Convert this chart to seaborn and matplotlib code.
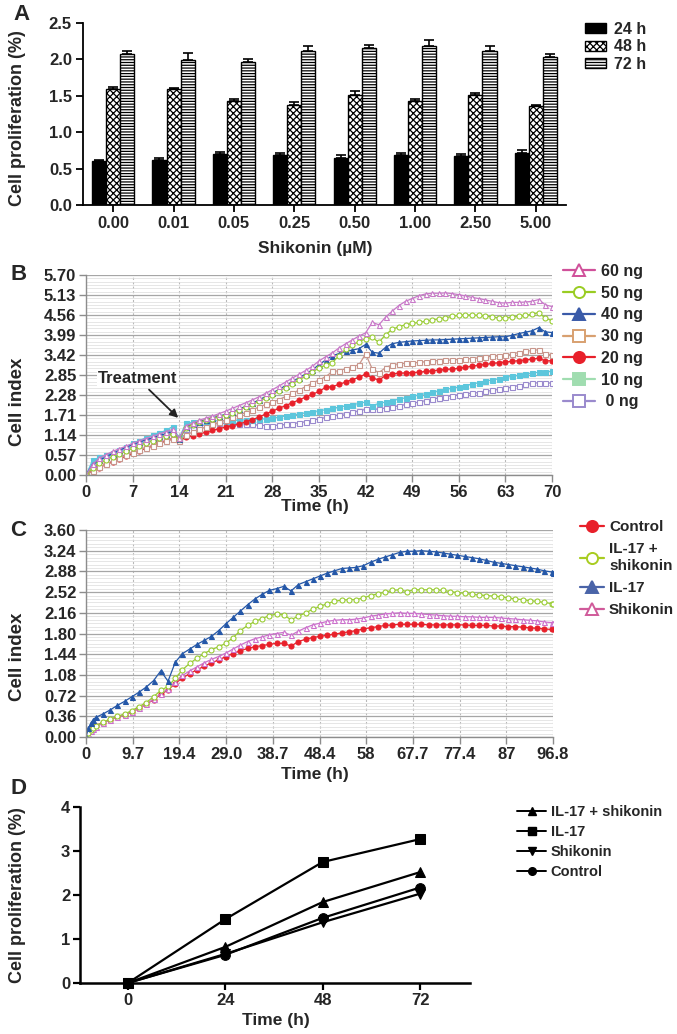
import numpy as np
import pandas as pd
import seaborn as sns
import matplotlib.pyplot as plt
from matplotlib.patches import Patch
from matplotlib.lines import Line2D
from matplotlib.ticker import AutoMinorLocator

# ---------------- data ----------------
# panel A
doses = ['0.00', '0.01', '0.05', '0.25', '0.50', '1.00', '2.50', '5.00']
hours_a = ['24 h', '48 h', '72 h']
prolif_24 = [0.60, 0.62, 0.70, 0.69, 0.65, 0.68, 0.67, 0.72]
prolif_48 = [1.60, 1.59, 1.43, 1.37, 1.51, 1.43, 1.51, 1.36]
prolif_72 = [2.08, 1.99, 1.96, 2.11, 2.16, 2.19, 2.11, 2.03]
err_24 = [0.02, 0.03, 0.03, 0.02, 0.03, 0.04, 0.03, 0.04]
err_48 = [0.02, 0.02, 0.03, 0.05, 0.06, 0.03, 0.03, 0.02]
err_72 = [0.03, 0.10, 0.05, 0.07, 0.04, 0.07, 0.07, 0.05]

# panel B (hourly readings, 0-70 h)
time_b = list(range(0, 71))
ng60 = [0.00, 0.30, 0.48, 0.58, 0.67, 0.75, 0.82, 0.90, 0.97, 1.04,
        1.10, 1.17, 1.23, 1.30, 1.05, 1.40, 1.48, 1.56, 1.62, 1.68,
        1.75, 1.82, 1.90, 1.98, 2.06, 2.14, 2.23, 2.33, 2.43, 2.54,
        2.65, 2.76, 2.87, 2.98, 3.10, 3.25, 3.37, 3.48, 3.62, 3.74,
        3.85, 3.96, 4.05, 4.35, 4.28, 4.50, 4.67, 4.83, 4.95, 5.03,
        5.11, 5.16, 5.18, 5.18, 5.19, 5.17, 5.14, 5.10, 5.06, 5.03,
        4.99, 4.95, 4.91, 4.90, 4.92, 4.92, 4.93, 4.95, 5.00, 4.85,
        4.80]
ng50 = [0.00, 0.20, 0.33, 0.43, 0.52, 0.60, 0.68, 0.76, 0.84, 0.91,
        0.98, 1.05, 1.12, 1.18, 1.02, 1.35, 1.43, 1.50, 1.56, 1.61,
        1.66, 1.71, 1.78, 1.85, 1.93, 2.01, 2.10, 2.19, 2.29, 2.39,
        2.49, 2.60, 2.71, 2.82, 2.93, 3.05, 3.13, 3.20, 3.40, 3.58,
        3.70, 3.80, 3.88, 3.92, 3.78, 4.00, 4.15, 4.23, 4.28, 4.32,
        4.35, 4.38, 4.42, 4.45, 4.48, 4.52, 4.55, 4.56, 4.56, 4.55,
        4.53, 4.50, 4.48, 4.48, 4.50, 4.52, 4.55, 4.58, 4.63, 4.47,
        4.40]
ng40 = [0.00, 0.30, 0.42, 0.52, 0.61, 0.70, 0.79, 0.87, 0.94, 1.00,
        1.06, 1.12, 1.18, 1.24, 1.02, 1.37, 1.45, 1.52, 1.58, 1.63,
        1.68, 1.73, 1.80, 1.88, 1.96, 2.05, 2.14, 2.24, 2.34, 2.44,
        2.55, 2.66, 2.77, 2.88, 3.00, 3.14, 3.28, 3.40, 3.46, 3.52,
        3.56, 3.60, 3.72, 3.50, 3.47, 3.64, 3.74, 3.78, 3.80, 3.82,
        3.83, 3.84, 3.85, 3.85, 3.86, 3.87, 3.88, 3.89, 3.90, 3.91,
        3.92, 3.93, 3.94, 3.94, 3.98, 4.03, 4.07, 4.11, 4.20, 4.08,
        4.06]
ng30 = [0.00, 0.12, 0.22, 0.31, 0.40, 0.48, 0.56, 0.64, 0.71, 0.78,
        0.84, 0.90, 0.96, 1.02, 0.98, 1.14, 1.22, 1.30, 1.37, 1.44,
        1.50, 1.57, 1.64, 1.71, 1.78, 1.86, 1.94, 2.01, 2.07, 2.15,
        2.24, 2.33, 2.42, 2.52, 2.62, 2.71, 2.80, 2.95, 2.97, 3.03,
        3.09, 3.14, 3.45, 3.02, 2.92, 3.06, 3.14, 3.17, 3.18, 3.19,
        3.21, 3.23, 3.25, 3.26, 3.27, 3.28, 3.29, 3.30, 3.32, 3.34,
        3.36, 3.38, 3.40, 3.42, 3.45, 3.49, 3.52, 3.55, 3.57, 3.45,
        3.43]
ng20 = [0.00, 0.12, 0.21, 0.30, 0.38, 0.46, 0.54, 0.62, 0.69, 0.76,
        0.83, 0.90, 0.97, 1.04, 0.97, 1.07, 1.12, 1.17, 1.22, 1.27,
        1.32, 1.37, 1.41, 1.45, 1.52, 1.58, 1.65, 1.74, 1.82, 1.90,
        1.98, 2.06, 2.14, 2.22, 2.30, 2.38, 2.50, 2.52, 2.58, 2.65,
        2.72, 2.78, 2.88, 2.76, 2.71, 2.83, 2.88, 2.90, 2.91, 2.92,
        2.93, 2.95, 2.97, 2.99, 3.01, 3.02, 3.04, 3.07, 3.10, 3.13,
        3.15, 3.18, 3.20, 3.22, 3.24, 3.26, 3.28, 3.30, 3.33, 3.25,
        3.26]
ng10 = [0.00, 0.42, 0.50, 0.56, 0.64, 0.72, 0.81, 0.90, 0.98, 1.06,
        1.13, 1.20, 1.27, 1.38, 1.05, 1.48, 1.50, 1.52, 1.53, 1.54,
        1.55, 1.55, 1.56, 1.56, 1.57, 1.58, 1.59, 1.60, 1.62, 1.65,
        1.68, 1.71, 1.74, 1.77, 1.80, 1.83, 1.86, 1.90, 1.93, 1.97,
        2.00, 2.04, 2.08, 1.98, 2.04, 2.08, 2.12, 2.16, 2.20, 2.24,
        2.28, 2.32, 2.36, 2.40, 2.44, 2.47, 2.51, 2.55, 2.59, 2.63,
        2.67, 2.71, 2.74, 2.78, 2.81, 2.84, 2.87, 2.90, 2.93, 2.94,
        2.96]
ng0 = [0.00, 0.32, 0.42, 0.50, 0.58, 0.66, 0.74, 0.82, 0.89, 0.96,
       1.02, 1.08, 1.14, 1.20, 1.03, 1.31, 1.36, 1.40, 1.43, 1.45,
       1.47, 1.47, 1.47, 1.46, 1.45, 1.44, 1.42, 1.41, 1.41, 1.42,
       1.44, 1.46, 1.49, 1.52, 1.56, 1.60, 1.64, 1.68, 1.71, 1.75,
       1.79, 1.83, 1.87, 1.87, 1.88, 1.91, 1.94, 1.97, 2.01, 2.04,
       2.08, 2.12, 2.16, 2.20, 2.23, 2.26, 2.29, 2.31, 2.33, 2.35,
       2.38, 2.41, 2.44, 2.47, 2.51, 2.55, 2.58, 2.61, 2.63, 2.62,
       2.62]
b_labels = ['60 ng', '50 ng', '40 ng', '30 ng', '20 ng', '10 ng', ' 0 ng']

# panel C
time_c = [0, 0.5, 1.0, 1.5] + list(np.arange(2, 97, 1.5)) + [96.8]
c_il17 = [0.00, 0.15, 0.24, 0.30, 0.34, 0.40, 0.47, 0.55, 0.62, 0.70,
          0.78, 0.87, 0.98, 1.15, 0.97, 1.30, 1.45, 1.53, 1.61, 1.68,
          1.75, 1.85, 1.97, 2.08, 2.19, 2.30, 2.40, 2.48, 2.55, 2.58,
          2.62, 2.54, 2.65, 2.70, 2.75, 2.80, 2.85, 2.89, 2.93, 2.94,
          2.95, 2.98, 3.04, 3.09, 3.13, 3.17, 3.21, 3.23, 3.23, 3.24,
          3.23, 3.22, 3.20, 3.18, 3.16, 3.14, 3.12, 3.10, 3.07, 3.04,
          3.02, 3.00, 2.98, 2.96, 2.94, 2.92, 2.89, 2.87, 2.86]
c_il17_shik = [0.00, 0.07, 0.12, 0.16, 0.19, 0.26, 0.31, 0.36, 0.40, 0.46,
               0.53, 0.60, 0.70, 0.81, 0.88, 1.02, 1.17, 1.28, 1.37, 1.45,
               1.52, 1.57, 1.63, 1.73, 1.85, 1.94, 2.01, 2.06, 2.11, 2.14,
               2.12, 2.04, 2.10, 2.16, 2.22, 2.27, 2.32, 2.36, 2.38, 2.39,
               2.39, 2.42, 2.46, 2.49, 2.52, 2.55, 2.56, 2.53, 2.56, 2.56,
               2.56, 2.56, 2.55, 2.53, 2.51, 2.50, 2.48, 2.47, 2.46, 2.45,
               2.44, 2.42, 2.40, 2.39, 2.37, 2.36, 2.34, 2.32, 2.32]
c_shik = [0.00, 0.06, 0.10, 0.14, 0.17, 0.24, 0.30, 0.35, 0.39, 0.43,
          0.50, 0.57, 0.66, 0.75, 0.83, 0.95, 1.07, 1.15, 1.22, 1.29,
          1.35, 1.40, 1.46, 1.53, 1.60, 1.66, 1.71, 1.74, 1.78, 1.80,
          1.82, 1.77, 1.84, 1.90, 1.95, 1.98, 2.01, 2.03, 2.04, 2.04,
          2.05, 2.07, 2.10, 2.12, 2.14, 2.15, 2.16, 2.15, 2.15, 2.14,
          2.13, 2.12, 2.11, 2.10, 2.10, 2.09, 2.09, 2.08, 2.08, 2.08,
          2.07, 2.06, 2.05, 2.04, 2.03, 2.02, 2.00, 1.99, 1.99]
c_control = [0.00, 0.08, 0.13, 0.17, 0.20, 0.25, 0.30, 0.35, 0.39, 0.43,
             0.50, 0.57, 0.65, 0.74, 0.82, 0.93, 1.03, 1.10, 1.17, 1.23,
             1.29, 1.34, 1.40, 1.45, 1.50, 1.54, 1.57, 1.59, 1.61, 1.63,
             1.63, 1.58, 1.66, 1.70, 1.73, 1.75, 1.77, 1.79, 1.81, 1.83,
             1.85, 1.88, 1.90, 1.92, 1.94, 1.95, 1.96, 1.96, 1.96, 1.96,
             1.95, 1.95, 1.95, 1.95, 1.95, 1.95, 1.94, 1.94, 1.94, 1.93,
             1.93, 1.92, 1.92, 1.91, 1.90, 1.89, 1.88, 1.87, 1.87]
c_xticklabels = ['0', '9.7', '19.4', '29.0', '38.7', '48.4', '58', '67.7', '77.4', '87', '96.8']

# panel D
time_d = [0, 24, 48, 72]
d_il17_shik = [0, 0.82, 1.84, 2.52]
d_il17 = [0, 1.45, 2.75, 3.27]
d_shik = [0, 0.66, 1.38, 2.03]
d_control = [0, 0.64, 1.48, 2.17]

# ---------------- style ----------------
sns.set_theme(style='ticks')
plt.rcParams['font.family'] = ['Liberation Sans', 'DejaVu Sans']
plt.rcParams['font.weight'] = 'bold'
plt.rcParams['axes.labelweight'] = 'bold'
plt.rcParams['hatch.linewidth'] = 0.9

W, H = 677, 1034
fig = plt.figure(figsize=(W / 100, H / 100), dpi=100)


def rect(l, t, r, b):
    return [l / W, 1 - b / H, (r - l) / W, (b - t) / H]


def fx(x):
    return x / W


def fy(y):
    return 1 - y / H


TICK_FS = 12

# ---------------- A: bar chart ----------------
axA = fig.add_axes(rect(83, 23, 566, 205))
df_a = pd.DataFrame({
    'dose': doses * 3,
    'hour': np.repeat(hours_a, len(doses)),
    'value': prolif_24 + prolif_48 + prolif_72,
})
sns.barplot(data=df_a, x='dose', y='value', hue='hour', order=doses, hue_order=hours_a,
            palette=['black', 'white', 'white'], saturation=1, width=0.7,
            edgecolor='black', linewidth=1.0, errorbar=None, legend=False, ax=axA)
hatches = ['', 'xxxxx', '------']
for cont, hatch, vals, errs in zip(axA.containers, hatches,
                                   [prolif_24, prolif_48, prolif_72],
                                   [err_24, err_48, err_72]):
    xs = []
    for bar in cont:
        bar.set_hatch(hatch)
        xs.append(bar.get_x() + bar.get_width() / 2)
    # upper error bars only
    axA.errorbar(xs, vals, yerr=[np.zeros(len(errs)), errs], fmt='none',
                 ecolor='black', elinewidth=1.2, capsize=3.5, capthick=1.2, zorder=3)
axA.set_xlim(-0.5, 7.5)
axA.set_ylim(0, 2.5)
axA.set_yticks([0, 0.5, 1.0, 1.5, 2.0, 2.5])
axA.set_yticklabels(['0.0', '0.5', '1.0', '1.5', '2.0', '2.5'])
axA.set_xlabel('')
axA.set_ylabel('')
sns.despine(ax=axA)
for s in ['left', 'bottom']:
    axA.spines[s].set_linewidth(1.3)
    axA.spines[s].set_color('black')
axA.tick_params(direction='out', length=5, width=1.3, color='black', labelsize=TICK_FS, pad=3)

fig.legend(handles=[Patch(facecolor='black', edgecolor='black'),
                    Patch(facecolor='white', edgecolor='black', hatch='xxxxx'),
                    Patch(facecolor='white', edgecolor='black', hatch='------')],
           labels=hours_a, loc='upper left', bbox_to_anchor=(fx(585), fy(22)),
           frameon=False, fontsize=11.5, handlelength=1.3, handleheight=0.6,
           labelspacing=0.15, handletextpad=0.5, borderaxespad=0, borderpad=0)

fig.text(fx(315), fy(248), 'Shikonin (µM)', ha='center', va='center', fontsize=12.5)
fig.text(fx(18), fy(118), 'Cell proliferation (%)', rotation=90, ha='center', va='center', fontsize=13)
fig.text(fx(22), fy(15), 'A', ha='center', va='center', fontsize=16)


# ---------------- helpers for B / C ----------------
def style_index_axes(ax, ymax, step, xmax, xticks, xticklabels):
    ax.set_xlim(0, xmax)
    ax.set_ylim(0, ymax)
    yt = np.round(np.arange(0, 11) * step, 2)
    ax.set_yticks(yt)
    ax.set_yticklabels([f'{v:.2f}' for v in yt])
    ax.set_xticks(xticks)
    ax.set_xticklabels(xticklabels)
    ax.yaxis.set_minor_locator(AutoMinorLocator(6))
    ax.grid(axis='y', which='major', color='#a6a6a6', linewidth=0.9, linestyle='-')
    ax.grid(axis='y', which='minor', color='#dcdcdc', linewidth=0.5, linestyle='-')
    ax.grid(axis='x', which='major', color='#b8b8b8', linewidth=0.8, linestyle=(0, (2, 2)))
    ax.set_axisbelow(True)
    for s in ['top', 'right']:
        ax.spines[s].set_visible(False)
    for s in ['left', 'bottom']:
        ax.spines[s].set_color('#8c8c8c')
        ax.spines[s].set_linewidth(1.0)
    ax.tick_params(which='major', direction='out', length=5, width=1, color='#8c8c8c',
                   labelsize=TICK_FS, pad=2)
    ax.tick_params(which='minor', length=0)
    ax.set_xlabel('')
    ax.set_ylabel('')


# ---------------- B ----------------
axB = fig.add_axes(rect(86, 275, 552, 475))
b_series = [ng0, ng10, ng20, ng30, ng40, ng50, ng60]
b_colors = ['#9a8acd', '#5cc6dc', '#e8202a', '#c8968c', '#2457a8', '#99cc33', '#c878c8']
b_markers = ['s', 's', 'o', 's', '^', 'o', '^']
b_filled = [False, True, True, False, True, False, False]
for vals, c, m, filled in zip(b_series, b_colors, b_markers, b_filled):
    sns.lineplot(x=time_b, y=vals, ax=axB, color=c, linewidth=0.9, marker=m,
                 markersize=3.6, markerfacecolor=c if filled else 'white',
                 markeredgecolor=c, markeredgewidth=0.8, legend=False)
style_index_axes(axB, 5.70, 0.57, 70, list(range(0, 71, 7)), [str(v) for v in range(0, 71, 7)])
axB.annotate('Treatment', xy=(14, 1.60), xytext=(7.8, 2.74), ha='center', va='center',
             fontsize=12, bbox=dict(fc='white', ec='none', pad=1),
             arrowprops=dict(arrowstyle='-|>', color='#222222', lw=1.3, shrinkA=2, shrinkB=1,
                             mutation_scale=12))

legend_b_colors = ['#d0509a', '#99cc22', '#3a5aa8', '#d8a070', '#e8202a', '#a0ddb0', '#9a8acd']
legend_b_markers = ['^', 'o', '^', 's', 'o', 's', 's']
legend_b_filled = [False, False, True, False, True, True, False]
b_handles = [Line2D([], [], color=c, marker=m, markersize=8, linewidth=1.6,
                    markerfacecolor=c if f else 'white', markeredgecolor=c, markeredgewidth=1.4)
             for c, m, f in zip(legend_b_colors, legend_b_markers, legend_b_filled)]
fig.legend(handles=b_handles, labels=b_labels, loc='upper left',
           bbox_to_anchor=(fx(563), fy(264)), frameon=False, fontsize=11.5,
           handlelength=2.0, labelspacing=0.42, handletextpad=0.4, borderaxespad=0, borderpad=0)

fig.text(fx(315), fy(507), 'Time (h)', ha='center', va='center', fontsize=12.5)
fig.text(fx(18), fy(402), 'Cell index', rotation=90, ha='center', va='center', fontsize=13.5)
fig.text(fx(19), fy(274), 'B', ha='center', va='center', fontsize=16)

# ---------------- C ----------------
axC = fig.add_axes(rect(86, 530, 553, 737))
c_series = [c_control, c_shik, c_il17_shik, c_il17]
c_colors = ['#e8202a', '#cc70cc', '#99cc33', '#2457a8']
c_markers = ['o', '^', 'o', '^']
c_filled = [True, False, False, True]
for vals, c, m, filled in zip(c_series, c_colors, c_markers, c_filled):
    sns.lineplot(x=time_c, y=vals, ax=axC, color=c, linewidth=0.9, marker=m,
                 markersize=3.6, markerfacecolor=c if filled else 'white',
                 markeredgecolor=c, markeredgewidth=0.8, legend=False)
c_ticks = np.round(np.arange(0, 11) * 9.68, 2)
style_index_axes(axC, 3.60, 0.36, 96.8, c_ticks, c_xticklabels)

c_handles = [Line2D([], [], color=c, marker=m, markersize=8, linewidth=1.6,
                    markerfacecolor=c if f else 'white', markeredgecolor=c, markeredgewidth=1.4)
             for c, m, f in zip(['#e8202a', '#a8cc20', '#4a64a8', '#d05a9a'],
                                ['o', 'o', '^', '^'], [True, False, True, False])]
fig.legend(handles=c_handles, labels=['Control', 'IL-17 +\nshikonin', 'IL-17', 'Shikonin'],
           loc='upper left', bbox_to_anchor=(fx(580), fy(520)), frameon=False,
           fontsize=11, handlelength=1.6, labelspacing=0.55, handletextpad=0.3,
           borderaxespad=0, borderpad=0)

fig.text(fx(315), fy(775), 'Time (h)', ha='center', va='center', fontsize=12.5)
fig.text(fx(18), fy(657), 'Cell index', rotation=90, ha='center', va='center', fontsize=13.5)
fig.text(fx(18), fy(531), 'C', ha='center', va='center', fontsize=16)

# ---------------- D ----------------
axD = fig.add_axes(rect(80, 807, 470, 983))
d_series = [d_il17_shik, d_il17, d_shik, d_control]
d_labels = ['IL-17 + shikonin', 'IL-17', 'Shikonin', 'Control']
d_markers = ['^', 's', 'v', 'o']
for vals, m in zip(d_series, d_markers):
    sns.lineplot(x=time_d, y=vals, ax=axD, color='black', linewidth=1.6, marker=m,
                 markersize=7, markerfacecolor='black', markeredgecolor='black',
                 legend=False, clip_on=False, zorder=3)
axD.set_xlim(-11.8, 84.3)
axD.set_ylim(0, 4)
axD.set_xticks(time_d)
axD.set_yticks([0, 1, 2, 3, 4])
axD.set_xlabel('')
axD.set_ylabel('')
sns.despine(ax=axD)
for s in ['left', 'bottom']:
    axD.spines[s].set_linewidth(1.8)
    axD.spines[s].set_color('black')
axD.tick_params(direction='out', length=5, width=1.6, color='black', labelsize=TICK_FS, pad=2)

d_handles = [Line2D([], [], color='black', marker=m, markersize=5.5, linewidth=1.4)
             for m in d_markers]
fig.legend(handles=d_handles, labels=d_labels, loc='upper left',
           bbox_to_anchor=(fx(517), fy(805)), frameon=False, fontsize=10.5,
           handlelength=2.0, labelspacing=0.42, handletextpad=0.3, borderaxespad=0, borderpad=0)

fig.text(fx(276), fy(1020), 'Time (h)', ha='center', va='center', fontsize=12.5)
fig.text(fx(18), fy(895), 'Cell proliferation (%)', rotation=90, ha='center', va='center', fontsize=13)
fig.text(fx(18), fy(788), 'D', ha='center', va='center', fontsize=16)

fig.savefig('out.png', dpi=100)
plt.close(fig)
